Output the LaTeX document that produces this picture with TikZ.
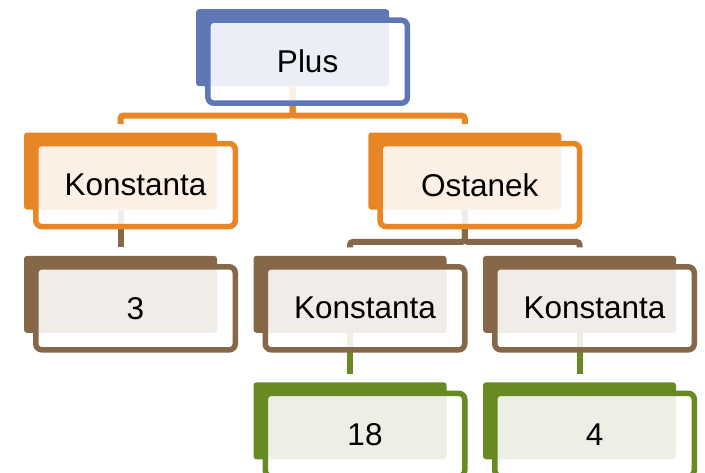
\documentclass[tikz,border=0pt]{standalone}
\usepackage{fontspec}
\setmainfont{Liberation Sans}
\usetikzlibrary{positioning, calc, backgrounds}
\definecolor{hblue}{HTML}{5E77B5}
\definecolor{horange}{HTML}{E88525}
\definecolor{hbrown}{HTML}{866748}
\definecolor{hgreen}{HTML}{688A22}
\tikzset{
  item/.style={draw=#1, line width=2.75pt, fill=white, fill opacity=0.88, text opacity=1,
    rounded corners=3pt, minimum width=99.75pt, minimum height=41.5pt, inner sep=0pt,
    font=\fontsize{15.75}{18}\selectfont},
  backbox/.style={fill=#1, rounded corners=1.5pt, minimum width=96.5pt, minimum height=38.5pt, inner sep=0pt},
  link/.style={draw=#1, line width=3pt, rounded corners=1.5pt, shorten >=4pt},
}
\begin{document}
\begin{tikzpicture}[x=0.5pt, y=-0.5pt, node distance=17.4pt and 12.25pt]
    \useasboundingbox (0,0) rectangle (705,472);
    % tree, level by level
    \node[item=horange] (konst) at (135.5,185) {Konstanta};
    \node[item=hbrown, below=of konst] (three) {3};
    \node[item=hbrown, right=of three] (kmid) {Konstanta};
    \node[item=hbrown, right=of kmid] (kright) {Konstanta};
    \node[item=hgreen, below=19pt of kmid] (eighteen) {18};
    \node[item=hgreen, below=19pt of kright] (four) {4};
    \coordinate (top2) at ($(kmid.north)!0.5!(kright.north)$);
    \node[item=horange, above=of top2] (ostanek) {Ostanek};
    \coordinate (top1) at ($(konst.north)!0.5!(ostanek.north)$);
    \node[item=hblue, above=of top1] (plus) {Plus};
    \begin{scope}[on background layer]
      \foreach \n/\c in {plus/hblue, konst/horange, ostanek/horange, three/hbrown,
          kmid/hbrown, kright/hbrown, eighteen/hgreen, four/hgreen}
        \node[backbox=\c] (\n-b) at ($(\n)+(-15,-14)$) {};
      \draw[link=horange] (plus-b.south) -- ++(0,29) -| (konst-b.north);
      \draw[link=horange] (plus-b.south) -- ++(0,29) -| (ostanek-b.north);
      \draw[link=hbrown] (konst-b.south) -- (three-b.north);
      \draw[link=hbrown] (ostanek-b.south) -- ++(0,32) -| (kmid-b.north);
      \draw[link=hbrown] (ostanek-b.south) -- ++(0,32) -| (kright-b.north);
      \draw[link=hgreen] (kmid-b.south) -- (eighteen-b.north);
      \draw[link=hgreen] (kright-b.south) -- (four-b.north);
    \end{scope}
\end{tikzpicture}
\end{document}
